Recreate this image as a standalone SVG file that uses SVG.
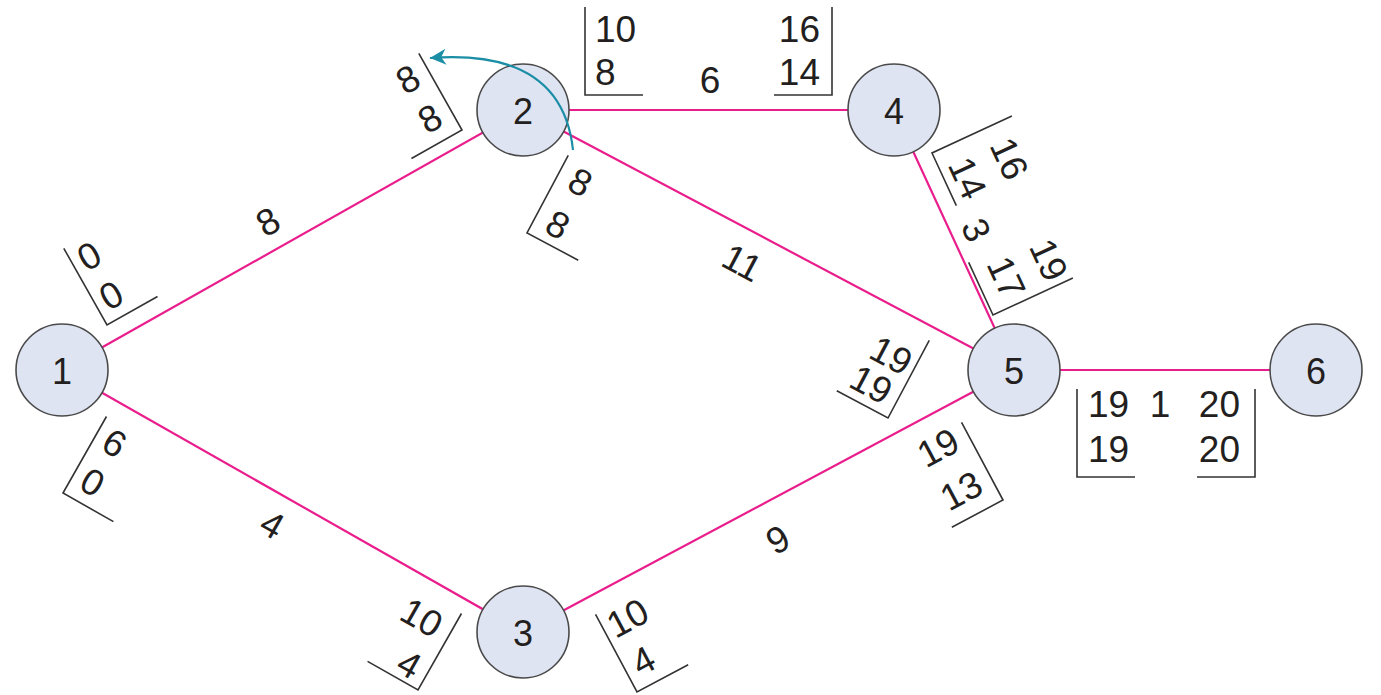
<svg xmlns="http://www.w3.org/2000/svg" xmlns:xlink="http://www.w3.org/1999/xlink" width="1381" height="695" viewBox="0 0 1381 695">
<style>
.edge{stroke:#e91e8c;stroke-width:2.2;fill:none}
.node circle{fill:#dfe4f3;stroke:#4a4a4a;stroke-width:1.6}
.node text{font-family:"Liberation Sans",Arial,sans-serif;font-size:36px;fill:#231f20;text-anchor:middle;dominant-baseline:central}
.br{stroke:#333;stroke-width:1.6;fill:none}
.t{font-family:"Liberation Sans",Arial,sans-serif;font-size:37px;fill:#231f20}
.l{text-anchor:start}
.r{text-anchor:end}
.c{text-anchor:middle;dominant-baseline:central}
</style>
<defs>
<path id="bL" class="br" d="M0,-88 V0 H58"/>
<path id="bR" class="br" d="M0,-88 V0 H-58"/>
<marker id="ah" viewBox="0 0 10 10" refX="10" refY="5" markerWidth="30" markerHeight="16" markerUnits="userSpaceOnUse" orient="auto">
<path d="M0,0 L10,5 L0,10 L3,5 z" fill="#1b8ea6"/>
</marker>
</defs>
<rect width="1381" height="695" fill="#ffffff"/>
<g id="connectors">
<line class="edge" x1="62" y1="370" x2="523" y2="110"/>
<line class="edge" x1="62" y1="370" x2="523" y2="632"/>
<line class="edge" x1="523" y1="110" x2="894" y2="110"/>
<line class="edge" x1="523" y1="110" x2="1014" y2="370"/>
<line class="edge" x1="894" y1="110" x2="1014" y2="370"/>
<line class="edge" x1="523" y1="632" x2="1014" y2="370"/>
<line class="edge" x1="1014" y1="370" x2="1316" y2="370"/>
</g>
<g id="edge-labels">
<text class="t c" transform="translate(268,222) rotate(-29.4)">8</text>
<text class="t c" transform="translate(272,525) rotate(29.6)">4</text>
<text class="t c" x="710" y="80">6</text>
<text class="t c" transform="translate(742,263) rotate(27.95)">11</text>
<text class="t c" transform="translate(976,230) rotate(65.2)">3</text>
<text class="t c" transform="translate(778,540) rotate(-28.1)">9</text>
<text class="t c" x="1160" y="404">1</text>
</g>
<g id="time-brackets">
<g transform="translate(107,325) rotate(-29.4)"><use xlink:href="#bL"/><text class="t l" x="8" y="-56">0</text><text class="t l" x="8" y="-11">0</text></g>
<g transform="translate(63,493) rotate(29.6)"><use xlink:href="#bL"/><text class="t l" x="10" y="-56">6</text><text class="t l" x="10" y="-11">0</text></g>
<g transform="translate(462,130) rotate(-29.4)"><use xlink:href="#bR"/><text class="t r" x="-12" y="-58">8</text><text class="t r" x="-12" y="-13">8</text></g>
<g transform="translate(527,233) rotate(27.95)"><use xlink:href="#bL"/><text class="t l" x="13" y="-57">8</text><text class="t l" x="13" y="-9">8</text></g>
<g transform="translate(585,95)"><use xlink:href="#bL"/><text class="t l" x="10" y="-53">10</text><text class="t l" x="10" y="-10">8</text></g>
<g transform="translate(832,95)"><use xlink:href="#bR"/><text class="t r" x="-12" y="-53">16</text><text class="t r" x="-12" y="-10">14</text></g>
<g transform="translate(418,690) rotate(29.6)"><use xlink:href="#bR"/><text class="t r" x="-12" y="-52">10</text><text class="t r" x="-10" y="-5">4</text></g>
<g transform="translate(637,692) rotate(-28.1)"><use xlink:href="#bL"/><text class="t l" x="6" y="-57">10</text><text class="t l" x="10" y="-12">4</text></g>
<g transform="translate(932,153) rotate(65.2)"><use xlink:href="#bL"/><text class="t l" x="17" y="-55">16</text><text class="t l" x="17" y="-9">14</text></g>
<g transform="translate(993,315) rotate(65.2)"><use xlink:href="#bR"/><text class="t r" x="-6" y="-61">19</text><text class="t r" x="-8" y="-15">17</text></g>
<g transform="translate(888,418) rotate(27.95)"><use xlink:href="#bR"/><text class="t r" x="-6" y="-44">19</text><text class="t r" x="-10" y="-9">19</text></g>
<g transform="translate(1003,500) rotate(-28.1)"><use xlink:href="#bR"/><text class="t r" x="-12" y="-64">19</text><text class="t r" x="-12" y="-15">13</text></g>
<g transform="translate(1077,477)"><use xlink:href="#bL"/><text class="t l" x="11" y="-60">19</text><text class="t l" x="11" y="-15">19</text></g>
<g transform="translate(1255,477)"><use xlink:href="#bR"/><text class="t r" x="-15" y="-60">20</text><text class="t r" x="-15" y="-15">20</text></g>
</g>
<g id="node-1" class="node"><circle cx="62" cy="370" r="46"/><text x="62" y="371">1</text></g>
<g id="node-2" class="node"><circle cx="523" cy="110" r="46"/><text x="523" y="111">2</text></g>
<g id="node-3" class="node"><circle cx="523" cy="632" r="46"/><text x="523" y="633">3</text></g>
<g id="node-4" class="node"><circle cx="894" cy="110" r="46"/><text x="894" y="111">4</text></g>
<g id="node-5" class="node"><circle cx="1014" cy="370" r="46"/><text x="1014" y="371">5</text></g>
<g id="node-6" class="node"><circle cx="1316" cy="370" r="46"/><text x="1316" y="371">6</text></g>
<g id="loop-arrow">
<path d="M573,150 Q562,48 430,58" fill="none" stroke="#1b8ea6" stroke-width="2.2" marker-end="url(#ah)"/>
</g>
</svg>
